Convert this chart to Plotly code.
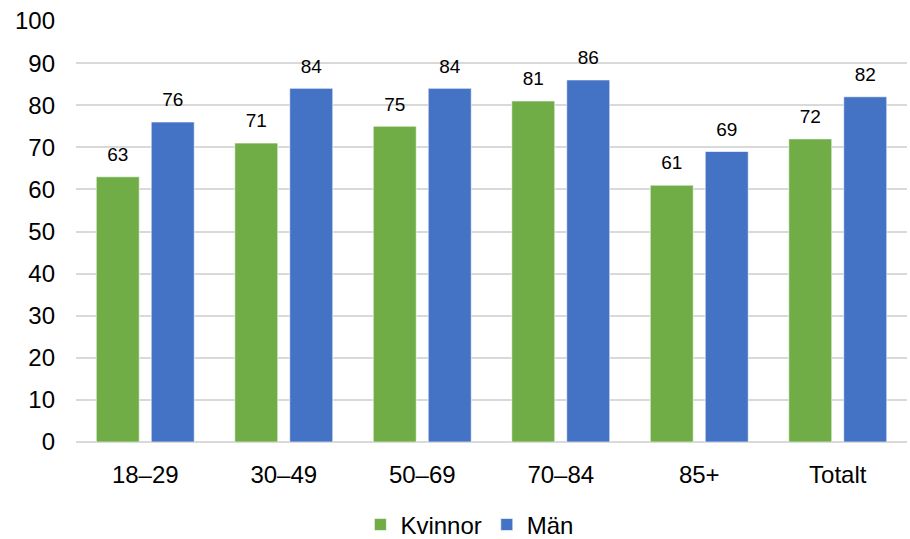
import plotly.graph_objects as go

categories = ["18–29", "30–49", "50–69", "70–84", "85+", "Totalt"]
kvinnor = [63, 71, 75, 81, 61, 72]
man = [76, 84, 84, 86, 69, 82]
y_ticks = [0, 10, 20, 30, 40, 50, 60, 70, 80, 90, 100]

GREEN = "#70AD47"
BLUE = "#4472C4"
FONT = "Liberation Sans, Arial, sans-serif"

series = [("Kvinnor", kvinnor, GREEN), ("Män", man, BLUE)]

fig = go.Figure()
for name, vals, col in series:
    fig.add_trace(go.Bar(
        name=name, x=categories, y=vals, offsetgroup=name,
        marker=dict(color=col, line=dict(color="rgba(255,255,255,0.6)", width=1)),
    ))

# value labels: grouped scatter points sitting on each bar top
for name, vals, col in series:
    fig.add_trace(go.Scatter(
        x=categories, y=vals, mode="markers+text", showlegend=False,
        offsetgroup="label_" + name, alignmentgroup="labels",
        marker=dict(size=16, opacity=0), hoverinfo="skip",
        text=[str(v) for v in vals], textposition="top center",
        textfont=dict(size=19, color="#000000", family=FONT),
        cliponaxis=False,
    ))

fig.update_layout(
    width=910, height=539,
    margin=dict(l=76, r=3, t=21, b=97, autoexpand=False),
    paper_bgcolor="white", plot_bgcolor="white",
    barmode="group", bargap=0.206, bargroupgap=0.218,
    scattermode="group", scattergap=0.206,
    font=dict(family=FONT, size=24, color="#000000"),
    showlegend=True,
    legend=dict(orientation="h", x=0.474, xanchor="center", y=-0.197, yanchor="middle",
                font=dict(size=24), itemwidth=30, traceorder="normal"),
    xaxis=dict(showgrid=False, showline=False, ticks="", tickfont=dict(size=24),
               ticklabelstandoff=16),
    yaxis=dict(range=[0, 100], tickvals=y_ticks, showgrid=True, gridcolor="#D9D9D9",
               gridwidth=1.5, zeroline=True, zerolinecolor="#D9D9D9", zerolinewidth=1.5,
               ticks="", tickfont=dict(size=24), ticklabelstandoff=20),
)

fig.write_html("out.html")
